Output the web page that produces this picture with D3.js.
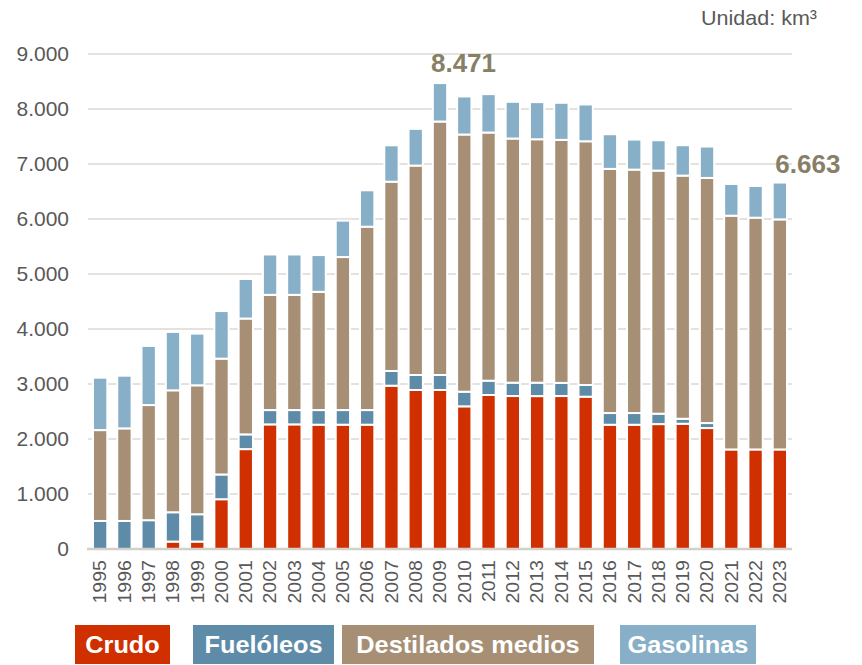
<!DOCTYPE html>
<html>
<head>
<meta charset="utf-8">
<script src="https://cdn.jsdelivr.net/npm/d3@7/dist/d3.min.js"></script>
<style>
  html, body { margin: 0; padding: 0; background: #fff; }
  svg { display: block; font-family: "Liberation Sans", Arial, sans-serif; }
</style>
</head>
<body>
<svg id="chart" width="862" height="665"></svg>
<script>
// ---- Data (km³) ----
const years = ["1995","1996","1997","1998","1999","2000","2001","2002","2003","2004",
  "2005","2006","2007","2008","2009","2010","2011","2012","2013","2014",
  "2015","2016","2017","2018","2019","2020","2021","2022","2023"];
const crudo = [0,0,0,135,135,905,1816,2266,2266,2260,
  2260,2260,2969,2891,2891,2594,2800,2781,2780,2781,
  2769,2259,2259,2271,2277,2199,1810,1810,1810];
const fueloleos = [510,510,524,533,497,450,268,260,260,266,
  266,266,268,273,273,266,260,243,244,239,
  213,213,213,189,91,91,0,0,0];
const destilados = [1652,1683,2093,2217,2344,2106,2106,2095,2095,2150,
  2782,3334,3441,3807,4608,4676,4512,4439,4426,4419,
  4431,4439,4426,4420,4421,4457,4250,4214,4183];
const gasolinas = [953,958,1075,1062,940,865,720,734,734,668,
  662,662,662,668,699,692,698,668,675,674,
  669,630,546,552,552,570,577,576,670];
const seriesNames = ["Crudo","Fuelóleos","Destilados medios","Gasolinas"];
const seriesColors = ["#d03000","#5e8ca8","#a68f74","#87afc7"];
const yTicks = [0,1000,2000,3000,4000,5000,6000,7000,8000,9000];
const highlights = [{year:"2009", label:"8.471"}, {year:"2023", label:"6.663"}];
const unitLabel = "Unidad: km³";

// ---- Build table ----
const keys = ["c","f","d","g"];
const table = years.map((yr,i) => ({year: yr, c: crudo[i], f: fueloleos[i], d: destilados[i], g: gasolinas[i]}));
const stacked = d3.stack().keys(keys)(table);

const svg = d3.select("#chart");
const x = d3.scaleBand().domain(years).range([88, 792]).paddingInner(0.41).paddingOuter(0.205);
const y = d3.scaleLinear().domain([0, 9000]).range([549, 54]);
const fmt = d3.formatLocale({decimal: ",", thousands: ".", grouping: [3], currency: ["",""]}).format(",d");

// gridlines
svg.append("g").selectAll("line").data(yTicks.filter(t => t > 0)).join("line")
  .attr("x1", 88).attr("x2", 792)
  .attr("y1", d => y(d)).attr("y2", d => y(d))
  .attr("stroke", "#dcd8d2").attr("stroke-width", 1.6);

// y tick labels
svg.append("g").selectAll("text").data(yTicks).join("text")
  .attr("transform", d => `translate(69,${y(d)}) scale(1.05,1)`)
  .attr("dy", "0.36em")
  .attr("text-anchor", "end").attr("font-size", 20).attr("fill", "#595959")
  .text(d => fmt(d));

// bars
svg.append("g").selectAll("g").data(stacked).join("g")
  .attr("fill", (d,i) => seriesColors[i])
  .selectAll("rect").data(d => d.filter(s => s[1] - s[0] > 0)).join("rect")
  .attr("x", d => x(d.data.year))
  .attr("width", x.bandwidth())
  .attr("y", d => y(d[1]))
  .attr("height", d => y(d[0]) - y(d[1]))
  .attr("stroke", "#fff").attr("stroke-width", 2);

// baseline
svg.append("line").attr("x1", 87).attr("x2", 792).attr("y1", y(0)).attr("y2", y(0))
  .attr("stroke", "#d3cfc9").attr("stroke-width", 2.5);

// x labels
svg.append("g").selectAll("text").data(years).join("text")
  .attr("transform", d => `translate(${x(d) + x.bandwidth()/2},560) rotate(-90) scale(1.12,1)`)
  .attr("text-anchor", "end").attr("dy", "0.36em")
  .attr("font-size", 17.5).attr("fill", "#595959")
  .text(d => d);

// highlight labels
const totalOf = yr => { const i = years.indexOf(yr); return crudo[i] + fueloleos[i] + destilados[i] + gasolinas[i]; };
svg.append("text").attr("x", x(highlights[0].year) + x.bandwidth()/2 + 23.5).attr("y", y(totalOf(highlights[0].year)) - 11)
  .attr("text-anchor", "middle").attr("font-size", 26).attr("font-weight", "bold").attr("fill", "#878067")
  .text(highlights[0].label);
svg.append("text").attr("x", x(highlights[1].year) + x.bandwidth()/2 + 28).attr("y", y(totalOf(highlights[1].year)) - 9.5)
  .attr("text-anchor", "middle").attr("font-size", 26).attr("font-weight", "bold").attr("fill", "#878067")
  .text(highlights[1].label);

// unit
svg.append("text").attr("transform", "translate(817,25) scale(1.05,1)").attr("text-anchor", "end")
  .attr("font-size", 20.5).attr("fill", "#595959").text(unitLabel);

// legend
const legendBoxes = [[75,95],[193,141],[342,252],[620,136]];
const lg = svg.append("g").selectAll("g").data(seriesNames).join("g");
lg.append("rect").attr("x", (d,i) => legendBoxes[i][0]).attr("y", 625)
  .attr("width", (d,i) => legendBoxes[i][1]).attr("height", 39)
  .attr("fill", (d,i) => seriesColors[i]);
lg.append("text")
  .attr("transform", (d,i) => `translate(${legendBoxes[i][0] + legendBoxes[i][1]/2},645) scale(1.1,1)`)
  .attr("dy", "0.36em").attr("text-anchor", "middle")
  .attr("font-size", 23).attr("font-weight", "bold").attr("fill", "#fff")
  .text(d => d);
</script>
</body>
</html>
